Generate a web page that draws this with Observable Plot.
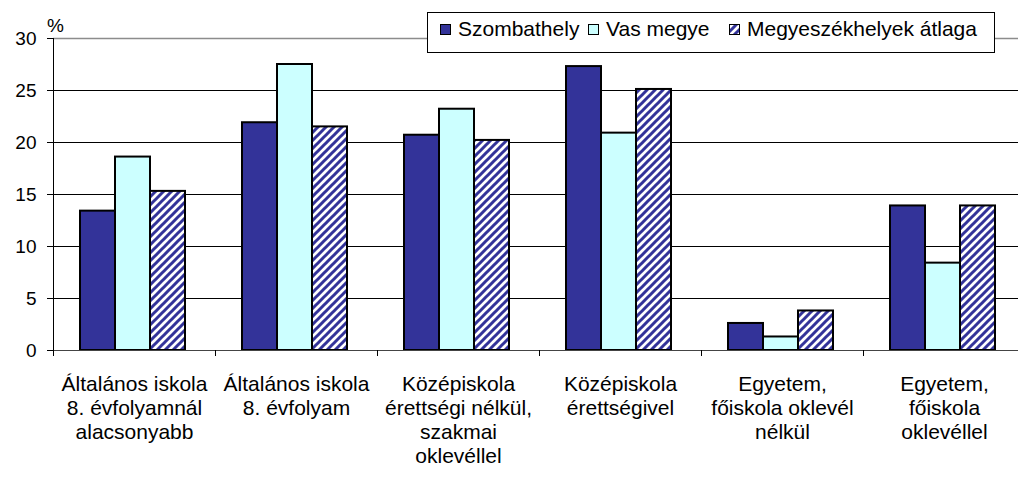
<!DOCTYPE html>
<html>
<head>
<meta charset="utf-8">
<script src="https://cdn.jsdelivr.net/npm/d3@7"></script>
<script src="https://cdn.jsdelivr.net/npm/@observablehq/plot@0.6"></script>
<style>
  body { margin: 0; background: #fff; }
  #wrap { position: relative; width: 1018px; height: 479px; overflow: hidden;
          font-family: "Liberation Sans", Arial, sans-serif; background: #fff; }
  #legend { position: absolute; left: 427px; top: 12px; width: 568px; height: 41px;
            border: 1px solid #000; background: #fff; box-sizing: border-box; font-size: 21px; }
  .item { position: absolute; top: 4px; height: 24px; line-height: 24px; display: flex; align-items: center; white-space: nowrap; }
  .item svg { margin-right: 7px; display: block; }
</style>
</head>
<body>
<div id="wrap"></div>
<script>
// ---- data ----
const categories = [
  "Általános iskola\n8. évfolyamnál\nalacsonyabb",
  "Általános iskola\n8. évfolyam",
  "Középiskola\nérettségi nélkül,\nszakmai\noklevéllel",
  "Középiskola\nérettségivel",
  "Egyetem,\nfőiskola oklevél\nnélkül",
  "Egyetem,\nfőiskola\noklevéllel"
];
const series = ["Szombathely", "Vas megye", "Megyeszékhelyek átlaga"];
const szombathely = [13.4, 21.9, 20.7, 27.3, 2.6, 13.9];
const vasMegye    = [18.6, 27.5, 23.2, 20.9, 1.3, 8.4];
const megyeAtlag  = [15.3, 21.5, 20.2, 25.1, 3.8, 13.9];
const yTicks = [0, 5, 10, 15, 20, 25, 30];
const yGrid = [5, 10, 15, 20, 25];
const yUnit = "%";

const colors = ["#333399", "#ccffff", "url(#hatch)"];
const seriesValues = [szombathely, vasMegye, megyeAtlag];
const data = categories.flatMap((c, i) =>
  series.map((s, j) => ({category: c, series: s, value: seriesValues[j][i]})));

const plot = Plot.plot({
  width: 1027,
  height: 479,
  marginLeft: 50,
  marginRight: 0,
  marginTop: 38,
  marginBottom: 129,
  style: {fontFamily: "'Liberation Sans', Arial, sans-serif", background: "white", maxWidth: "none", overflow: "visible"},
  fx: {domain: categories, padding: 0, label: null},
  x: {domain: series, paddingInner: 0, paddingOuter: 0.76, align: 0.47, axis: null},
  y: {domain: [0, 30], label: null},
  color: {domain: series, range: colors},
  marks: [
    Plot.ruleY(yGrid, {stroke: "#000", strokeWidth: 1}),
    Plot.ruleY([30], {stroke: "#8c8c8c", strokeWidth: 1.5}),
    Plot.barY(data, {fx: "category", x: "series", y: "value", fill: "series", stroke: "#000", strokeWidth: 2}),
    Plot.ruleY([0], {stroke: "#444", strokeWidth: 1}),
    Plot.axisY({ticks: yTicks, tickSize: 6, tickPadding: 11, fontSize: 19, label: null, tickFormat: d => String(d)}),
    Plot.axisFx({anchor: "bottom", tickSize: 0, tickPadding: 23, fontSize: 21, lineHeight: 24 / 21, label: null}),
    Plot.text([yUnit], {fx: [categories[0]], text: d => d, frameAnchor: "top-left", textAnchor: "middle", lineAnchor: "middle", dx: 2, dy: -13, fontSize: 19})
  ]
});

// hatch pattern
const svg = d3.select(plot);
const defs = svg.insert("defs", ":first-child");
const pat = defs.append("pattern").attr("id", "hatch").attr("patternUnits", "userSpaceOnUse")
  .attr("width", 8).attr("height", 8);
pat.append("rect").attr("width", 8).attr("height", 8).attr("fill", "#fff");
pat.append("path").attr("d", "M-2,2 L2,-2 M0,8 L8,0 M6,10 L10,6")
  .attr("stroke", "#333399").attr("stroke-width", 3);

// category boundary ticks and y axis line, through the plot's own scales
const fx = plot.scale("fx"), y = plot.scale("y");
const y0 = y.apply(0);
const edges = categories.map(c => fx.apply(c)).concat([fx.apply(categories[categories.length - 1]) + fx.bandwidth]);
const g = svg.append("g").attr("stroke", "#000").attr("stroke-width", 1);
g.selectAll("line.edge").data(edges).join("line").attr("class", "edge")
  .attr("x1", d => Math.round(d) + 0.5).attr("x2", d => Math.round(d) + 0.5)
  .attr("y1", y0).attr("y2", y0 + 6);
g.append("line")
  .attr("x1", Math.round(edges[0]) + 0.5).attr("x2", Math.round(edges[0]) + 0.5)
  .attr("y1", y.apply(30)).attr("y2", y0 + 6);

const wrap = document.getElementById("wrap");
wrap.appendChild(plot);

// legend
const legend = document.createElement("div");
legend.id = "legend";
const lefts = [12, 160, 301];
series.forEach((s, i) => {
  const item = document.createElement("div");
  item.className = "item";
  item.style.left = lefts[i] + "px";
  item.innerHTML = `<svg width="11" height="11"><rect x="0.5" y="0.5" width="10" height="10" fill="${colors[i]}" stroke="#000" stroke-width="1"/></svg><span>${s}</span>`;
  legend.appendChild(item);
});
wrap.appendChild(legend);
</script>
</body>
</html>
